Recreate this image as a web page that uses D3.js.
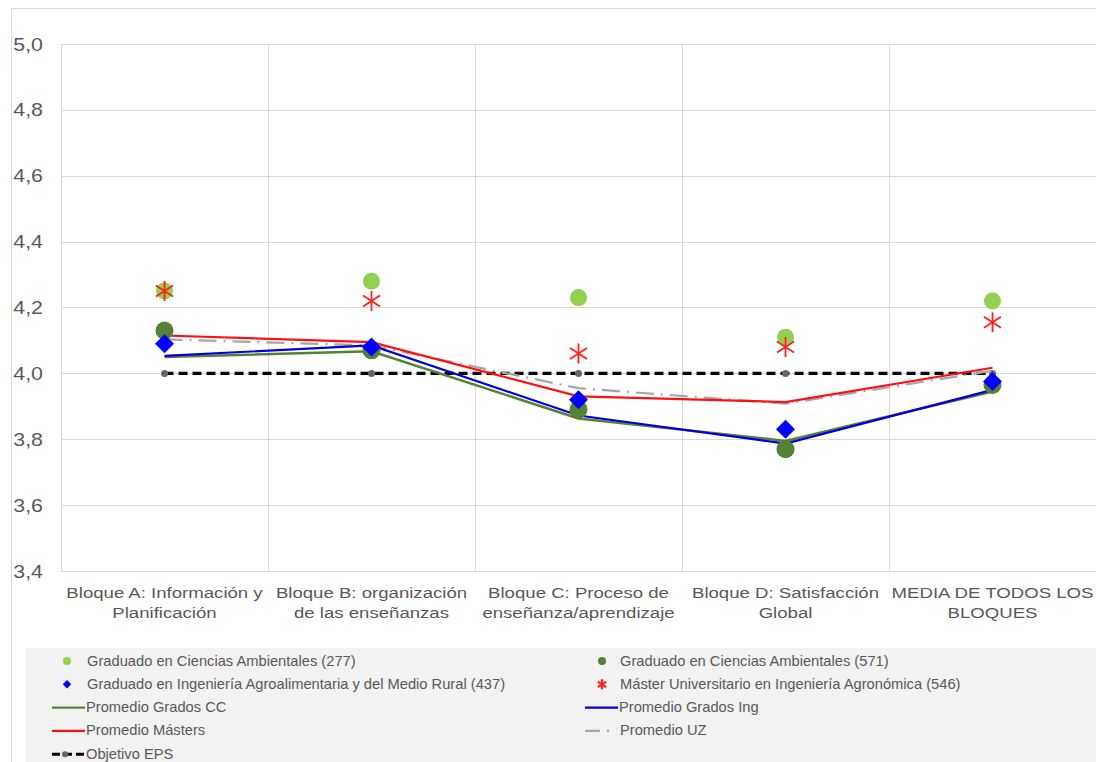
<!DOCTYPE html>
<html><head><meta charset="utf-8">
<script src="https://cdn.jsdelivr.net/npm/d3@7"></script>
<style>body{margin:0;background:#fff;}svg{display:block;font-family:"Liberation Sans",Arial,sans-serif;}</style>
</head><body>
<script>
const categories = [
  ["Bloque A: Información y","Planificación"],
  ["Bloque B: organización","de las enseñanzas"],
  ["Bloque C: Proceso de","enseñanza/aprendizaje"],
  ["Bloque D: Satisfacción","Global"],
  ["MEDIA DE TODOS LOS","BLOQUES"]
];
const yTicks = [3.4,3.6,3.8,4.0,4.2,4.4,4.6,4.8,5.0];
const caAmb277 = [4.25,4.28,4.23,4.11,4.22];
const caAmb571 = [4.13,4.07,3.89,3.77,3.965];
const ingAgro437 = [4.09,4.08,3.92,3.83,3.975];
const masterAgro546 = [4.25,4.22,4.06,4.08,4.155];
const promGradosCC = [4.05,4.067,3.863,3.795,3.945];
const promGradosIng = [4.053,4.085,3.872,3.787,3.95];
const promMasters = [4.115,4.095,3.93,3.913,4.017];
const promUZ = [4.103,4.085,3.955,3.908,4.008];
const objetivoEPS = [4.0,4.0,4.0,4.0,4.0];

const W=1096,H=762;
const svg=d3.select("body").append("svg").attr("width",W).attr("height",H);
svg.append("rect").attr("x",11.5).attr("y",8.5).attr("width",W).attr("height",H).attr("fill","#fff").attr("stroke","#d9d9d9");

const x=d3.scaleBand().domain(d3.range(categories.length)).range([61,1096]);
const y=d3.scaleLinear().domain([3.4,5.0]).range([571,44]);
const cx=i=>x(i)+x.bandwidth()/2;

function stext(sel,px,py,t,size,sx,anchor,fill){
  return sel.append("text").attr("transform",`translate(${px},${py}) scale(${sx},1)`)
    .attr("text-anchor",anchor).attr("font-size",size).attr("fill",fill||"#595959").text(t);
}

const g=svg.append("g");
g.selectAll(".hg").data(yTicks).join("line")
  .attr("x1",61).attr("x2",1096).attr("y1",d=>Math.round(y(d))+0.5).attr("y2",d=>Math.round(y(d))+0.5)
  .attr("stroke","#d9d9d9").attr("stroke-width",1);
const bounds=d3.range(categories.length+1).map(i=>i<categories.length?x(i):x(categories.length-1)+x.bandwidth());
g.selectAll(".vg").data(bounds).join("line")
  .attr("x1",d=>Math.round(d)+0.5).attr("x2",d=>Math.round(d)+0.5).attr("y1",44).attr("y2",571)
  .attr("stroke","#d9d9d9").attr("stroke-width",1);

yTicks.forEach(d=>stext(g,43,y(d)+6.5,d.toFixed(1).replace(".",","),17.5,1.22,"end"));

categories.forEach((c,i)=>{
  c.forEach((t,j)=>stext(g,cx(i),598+j*20,t,15.5,1.2,"middle"));
});

const line=d3.line().x((d,i)=>cx(i)).y(d=>y(d));
g.append("path").datum(objetivoEPS).attr("d",line).attr("fill","none").attr("stroke","#000").attr("stroke-width",3.2).attr("stroke-dasharray","9,5");
g.selectAll(".eps").data(objetivoEPS).join("circle").attr("cx",(d,i)=>cx(i)).attr("cy",d=>y(d)).attr("r",3.5).attr("fill","#666");
g.append("path").datum(promUZ).attr("d",line).attr("fill","none").attr("stroke","#a6a6a6").attr("stroke-width",2.2).attr("stroke-dasharray","18,7,2,7");
g.append("path").datum(promGradosCC).attr("d",line).attr("fill","none").attr("stroke","#548235").attr("stroke-width",2.5);
g.append("path").datum(promGradosIng).attr("d",line).attr("fill","none").attr("stroke","#0000e0").attr("stroke-width",2.2);
g.append("path").datum(promMasters).attr("d",line).attr("fill","none").attr("stroke","#ff1010").attr("stroke-width",2.2);

g.selectAll(".m1").data(caAmb277).join("circle").attr("cx",(d,i)=>cx(i)).attr("cy",d=>y(d)).attr("r",8.5).attr("fill","#92d050");
g.selectAll(".m2").data(caAmb571).join("circle").attr("cx",(d,i)=>cx(i)).attr("cy",d=>y(d)).attr("r",9).attr("fill","#538135");
const diamond=d3.symbol().type(d3.symbolDiamond2).size(230);
g.selectAll(".m3").data(ingAgro437).join("path").attr("d",diamond).attr("transform",(d,i)=>`translate(${cx(i)},${y(d)})`).attr("fill","#0000ff");
function drawStar(sel,px,py,s,w){
  const a=s, b=s*0.85;
  const p=`M${px-b},${py-a*0.55}L${px+b},${py+a*0.55}M${px+b},${py-a*0.55}L${px-b},${py+a*0.55}M${px},${py-a}L${px},${py+a}`;
  sel.append("path").attr("d",p).attr("stroke","#ff2020").attr("stroke-width",w||1.8).attr("fill","none");
}
masterAgro546.forEach((d,i)=>drawStar(g,cx(i),y(d),10));

const lg=svg.append("g");
lg.append("rect").attr("x",25).attr("y",648).attr("width",W-25).attr("height",H-648).attr("fill","#f2f2f2");
const legend=[
  {t:"Graduado en Ciencias Ambientales (277)",type:"circle",c:"#92d050"},
  {t:"Graduado en Ciencias Ambientales (571)",type:"circle",c:"#538135"},
  {t:"Graduado en Ingeniería Agroalimentaria y del Medio Rural (437)",type:"diamond",c:"#0000ff"},
  {t:"Máster Universitario en Ingeniería Agronómica (546)",type:"star",c:"#ff2020"},
  {t:"Promedio Grados CC",type:"line",c:"#548235"},
  {t:"Promedio Grados Ing",type:"line",c:"#0000e0"},
  {t:"Promedio Másters",type:"line",c:"#ff1010"},
  {t:"Promedio UZ",type:"dashdot",c:"#a6a6a6"},
  {t:"Objetivo EPS",type:"eps",c:"#000"}
];
legend.forEach((L,k)=>{
  const col=k%2,row=Math.floor(k/2);
  const yy=661+row*23.3;
  const mx=col?602:67, tx=col?620:87;
  const lx0=col?585:52, lx1=col?618:85;
  const gg=lg.append("g");
  let textX=tx;
  if(L.type==="circle") gg.append("circle").attr("cx",mx).attr("cy",yy).attr("r",4).attr("fill",L.c);
  if(L.type==="diamond") gg.append("path").attr("d",d3.symbol().type(d3.symbolDiamond2).size(45)).attr("transform",`translate(${mx},${yy})`).attr("fill",L.c);
  if(L.type==="star") drawStar(gg,mx,yy,5,2.2);
  if(L.type==="line"){ gg.append("line").attr("x1",lx0).attr("x2",lx1).attr("y1",yy).attr("y2",yy).attr("stroke",L.c).attr("stroke-width",2.2); textX=lx1+1;}
  if(L.type==="dashdot"){ gg.append("line").attr("x1",lx0).attr("x2",lx1).attr("y1",yy).attr("y2",yy).attr("stroke",L.c).attr("stroke-width",2.2).attr("stroke-dasharray","15,7,2,20");}
  if(L.type==="eps"){gg.append("line").attr("x1",lx0).attr("x2",lx1).attr("y1",yy).attr("y2",yy).attr("stroke",L.c).attr("stroke-width",3).attr("stroke-dasharray","8,4");
    gg.append("circle").attr("cx",65).attr("cy",yy).attr("r",3).attr("fill","#666"); textX=lx1+1;}
  stext(gg,textX,yy+4.5,L.t,14,1.05,"start");
});
</script>
</body></html>
